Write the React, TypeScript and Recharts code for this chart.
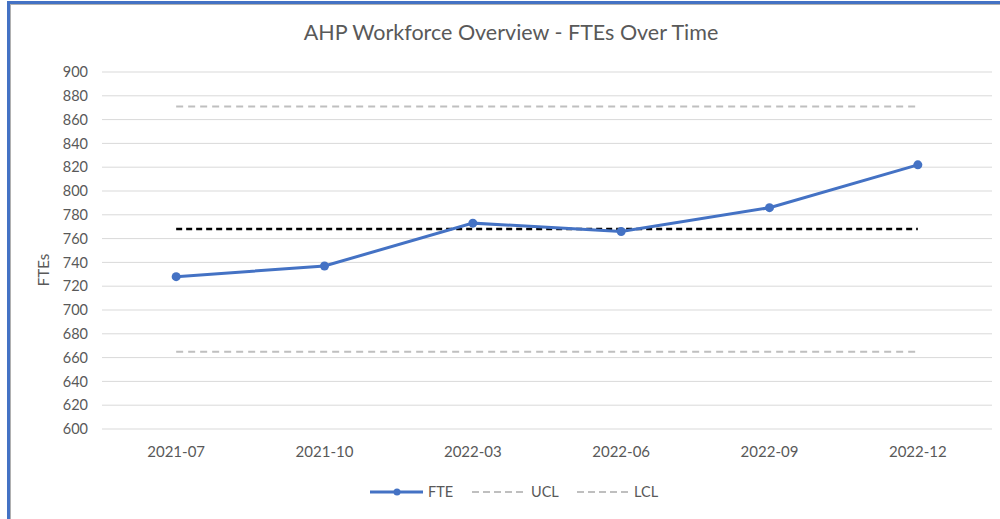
import { CartesianGrid, ComposedChart, Line, XAxis, YAxis } from "recharts";

const months = ["2021-07", "2021-10", "2022-03", "2022-06", "2022-09", "2022-12"];
const fte = [728, 737, 773, 766, 786, 822];
const mean = [768, 768, 768, 768, 768, 768];
const ucl = [871, 871, 871, 871, 871, 871];
const lcl = [665, 665, 665, 665, 665, 665];
const yTicks = [600, 620, 640, 660, 680, 700, 720, 740, 760, 780, 800, 820, 840, 860, 880, 900];

const data = months.map((month, i) => ({
  month,
  fte: fte[i],
  mean: mean[i],
  ucl: ucl[i],
  lcl: lcl[i],
}));

const font = "Lato, 'Open Sans', sans-serif";
const textColor = "#595959";
const blue = "#4472C4";
const grey = "#BFBFBF";

const legendText = {
  position: "absolute" as const,
  top: 483,
  fontFamily: font,
  fontSize: 14.5,
  color: textColor,
  lineHeight: "18px",
};

const LegendItems = () => (
  <>
    <svg style={{ position: "absolute", left: 369, top: 484 }} width={55} height={16}>
      <line x1={1} y1={8} x2={54} y2={8} stroke={blue} strokeWidth={3} />
      <circle cx={28} cy={8} r={3.5} fill={blue} />
    </svg>
    <span style={{ ...legendText, left: 428 }}>FTE</span>
    <svg style={{ position: "absolute", left: 471, top: 484 }} width={56} height={16}>
      <line x1={1} y1={8} x2={55} y2={8} stroke={grey} strokeWidth={2} strokeDasharray="7 4" />
    </svg>
    <span style={{ ...legendText, left: 531 }}>UCL</span>
    <svg style={{ position: "absolute", left: 576, top: 484 }} width={56} height={16}>
      <line x1={1} y1={8} x2={55} y2={8} stroke={grey} strokeWidth={2} strokeDasharray="7 4" />
    </svg>
    <span style={{ ...legendText, left: 634 }}>LCL</span>
  </>
);

export default function App() {
  return (
    <div
      style={{
        position: "absolute",
        left: 0,
        top: 0,
        width: 1000,
        height: 519,
        background: "#fff",
        overflow: "hidden",
      }}
    >
      <div style={{ position: "absolute", left: 7, top: 1, width: 993, height: 3, background: blue }} />
      <div style={{ position: "absolute", left: 10, top: 4, width: 990, height: 1, background: "#b0b0b0" }} />
      <div style={{ position: "absolute", left: 7, top: 1, width: 3, height: 518, background: blue }} />
      <div style={{ position: "absolute", left: 10, top: 4, width: 1, height: 515, background: "#b0b0b0" }} />
      <div
        style={{
          position: "absolute",
          left: 0,
          top: 19,
          width: 1022,
          textAlign: "center",
          fontFamily: font,
          fontSize: 21.5,
          color: textColor,
        }}
      >
        AHP Workforce Overview - FTEs Over Time
      </div>
      <div style={{ position: "absolute", left: 0, top: 0 }}>
        <ComposedChart
          width={1000}
          height={519}
          data={data}
          margin={{ top: 72, right: 8, bottom: 60, left: 0 }}
        >
          <CartesianGrid vertical={false} stroke="#D9D9D9" />
          <XAxis
            dataKey="month"
            scale="band"
            axisLine={false}
            tickLine={false}
            tickSize={0}
            tickMargin={17}
            height={30}
            tick={{ fill: textColor, fontSize: 15, fontFamily: font }}
          />
          <YAxis
            domain={[600, 900]}
            ticks={yTicks}
            interval={0}
            width={102}
            axisLine={false}
            tickLine={false}
            tickSize={0}
            tickMargin={14}
            tick={{ fill: textColor, fontSize: 14.5, fontFamily: font }}
            label={{
              content: () => (
                <text
                  x={49}
                  y={270}
                  transform="rotate(-90, 49, 270)"
                  textAnchor="middle"
                  fill={textColor}
                  fontSize={15}
                  fontFamily={font}
                >
                  FTEs
                </text>
              ),
            }}
          />
          <Line
            dataKey="ucl"
            stroke={grey}
            strokeWidth={2}
            strokeDasharray="7 5"
            dot={false}
            activeDot={false}
            isAnimationActive={false}
          />
          <Line
            dataKey="lcl"
            stroke={grey}
            strokeWidth={2}
            strokeDasharray="7 5"
            dot={false}
            activeDot={false}
            isAnimationActive={false}
          />
          <Line
            dataKey="mean"
            stroke="#000"
            strokeWidth={2.5}
            strokeDasharray="6 4"
            dot={false}
            activeDot={false}
            isAnimationActive={false}
          />
          <Line
            dataKey="fte"
            stroke={blue}
            strokeWidth={3}
            dot={{ r: 4.5, fill: blue, stroke: blue, strokeWidth: 0 }}
            activeDot={false}
            isAnimationActive={false}
          />
        </ComposedChart>
      </div>
      <LegendItems />
    </div>
  );
}
